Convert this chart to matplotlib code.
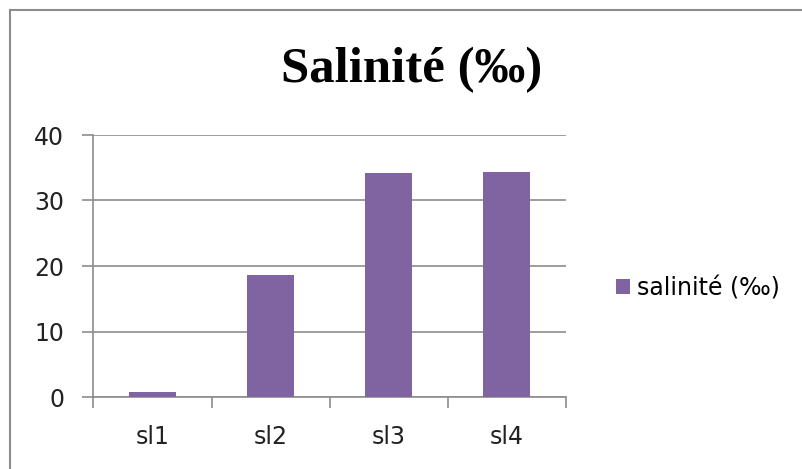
import matplotlib
matplotlib.use("Agg")
import matplotlib.pyplot as plt
from matplotlib.lines import Line2D
from matplotlib.patches import Patch

categories = ["sl1", "sl2", "sl3", "sl4"]
values = [0.8, 18.7, 34.2, 34.4]
series_name = "salinité (‰)"
title = "Salinité (‰)"
yticks = [0, 10, 20, 30, 40]

W, H = 803, 469
fig = plt.figure(figsize=(W / 100, H / 100), dpi=100)
fig.patch.set_facecolor("white")

# figure frame (top and left visible)
fig.add_artist(Line2D([10 / W, 1], [1 - 10 / H, 1 - 10 / H], color="#8c8c8c", lw=1.5))
fig.add_artist(Line2D([10 / W, 10 / W], [0, 1 - 10 / H], color="#8c8c8c", lw=1.5))

ax = fig.add_axes([93.5 / W, 1 - 397 / H, (565.7 - 93.5) / W, (397 - 135) / H])
x = list(range(len(categories)))
bar_color = "#8064A2"
ax.bar(x, values, width=0.4, color=bar_color, zorder=3)

ax.set_xlim(-0.5, len(categories) - 0.5)
ax.set_ylim(0, 40)
ax.set_yticks(yticks)
ax.yaxis.grid(True, color="#8c8c8c", lw=1.2, zorder=0)
ax.set_axisbelow(True)

for s in ["top", "right"]:
    ax.spines[s].set_visible(False)
for s in ["left", "bottom"]:
    ax.spines[s].set_color("#8c8c8c")
    ax.spines[s].set_linewidth(1.2)

lab_font = "DejaVu Sans"
fs = 17
ax.set_xticks(x)
ax.set_xticklabels(categories, fontfamily=lab_font, fontsize=fs)
ax.set_xticks([i - 0.5 for i in range(len(categories) + 1)], minor=True)
ax.tick_params(axis="x", which="major", length=0, pad=20, colors="#222222")
ax.tick_params(axis="x", which="minor", length=8, width=1.2, color="#8c8c8c")
ax.tick_params(axis="y", length=8, width=1.2, color="#8c8c8c", pad=13, labelcolor="#222222")
for t in ax.get_yticklabels():
    t.set_fontfamily(lab_font)
    t.set_fontsize(fs)

fig.text(412 / W, 1 - 70 / H, title, ha="center", va="center",
         fontfamily="Liberation Serif", fontweight="bold", fontsize=36.5, color="black")

handle = Patch(facecolor=bar_color, edgecolor="none")
leg = fig.legend([handle], [series_name], loc="center left",
                 bbox_to_anchor=(616 / W, 1 - 288 / H), frameon=False,
                 handlelength=0.6, handleheight=0.6, handletextpad=0.3,
                 borderaxespad=0, borderpad=0,
                 prop={"family": lab_font, "size": fs})

fig.savefig("out.png", dpi=100, facecolor="white")
